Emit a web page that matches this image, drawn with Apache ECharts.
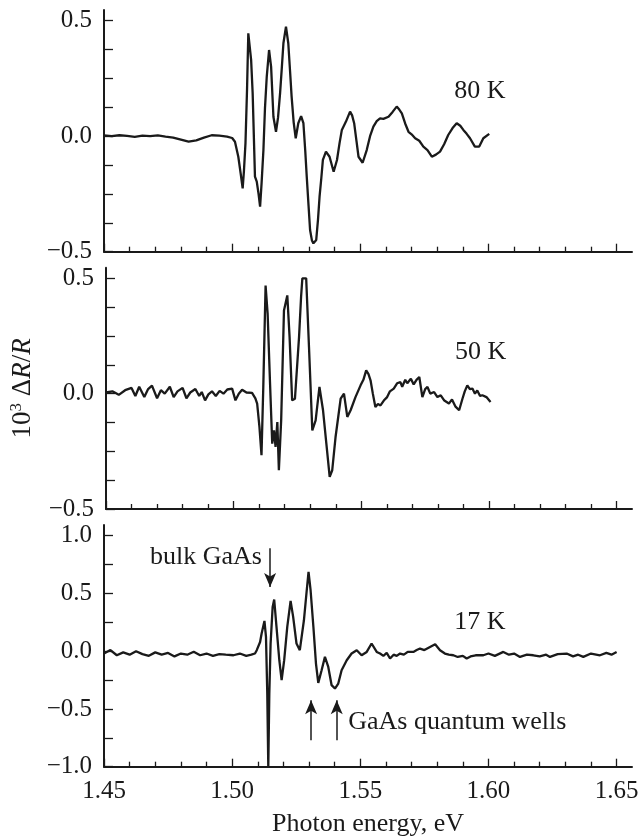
<!DOCTYPE html>
<html>
<head>
<meta charset="utf-8">
<script src="https://cdn.jsdelivr.net/npm/echarts@6/dist/echarts.min.js"></script>
<style>
html,body{margin:0;padding:0;background:#fff;}
#chart{width:642px;height:840px;}
</style>
</head>
<body>
<div id="chart"></div>
<script>
// ---- 80 K ----
const energy80 = [1.450,1.453,1.456,1.459,1.462,1.465,1.468,1.471,1.474,1.477,1.480,1.483,1.486,1.489,1.492,1.495,1.498,1.500,1.5011,1.5024,1.5033,1.5041,1.5046,1.5052,1.5058,1.5063,1.5068,1.5074,1.508,1.5089,1.5096,1.5103,1.5109,1.5115,1.5122,1.5128,1.5135,1.5144,1.5152,1.5161,1.5171,1.5179,1.5187,1.5194,1.5200,1.5210,1.5219,1.5226,1.5232,1.5240,1.5248,1.5258,1.5269,1.5278,1.5285,1.5291,1.5298,1.5304,1.5311,1.5317,1.5323,1.5328,1.5335,1.5341,1.5348,1.5354,1.5366,1.5380,1.5396,1.5409,1.5419,1.5428,1.5444,1.5460,1.5468,1.5476,1.5485,1.5493,1.5509,1.5525,1.5538,1.5551,1.5564,1.5577,1.5590,1.5610,1.5626,1.5642,1.5652,1.5662,1.5675,1.5688,1.5700,1.5714,1.5730,1.5746,1.5762,1.5779,1.5795,1.5811,1.5827,1.5843,1.5860,1.5876,1.5890,1.5902,1.5915,1.5928,1.5947,1.5964,1.5980,1.6003];
const signal80 = [0.003,0.000,0.004,0.001,-0.003,0.002,0.000,0.003,-0.002,-0.006,-0.015,-0.024,-0.018,-0.006,0.004,0.002,-0.002,-0.008,-0.024,-0.089,-0.160,-0.226,-0.150,-0.030,0.200,0.445,0.440,0.330,0.186,-0.175,-0.197,-0.250,-0.305,-0.200,-0.060,0.120,0.258,0.373,0.300,0.084,0.019,0.080,0.186,0.300,0.402,0.474,0.402,0.280,0.171,0.060,-0.009,0.056,0.087,0.056,-0.060,-0.175,-0.300,-0.406,-0.450,-0.464,-0.460,-0.449,-0.360,-0.262,-0.180,-0.103,-0.067,-0.089,-0.154,-0.103,-0.030,0.027,0.063,0.106,0.090,0.056,-0.020,-0.089,-0.115,-0.060,0.000,0.041,0.065,0.077,0.075,0.084,0.105,0.128,0.115,0.099,0.055,0.019,0.008,-0.009,-0.020,-0.045,-0.060,-0.089,-0.080,-0.067,-0.035,0.005,0.035,0.056,0.045,0.027,0.010,-0.009,-0.045,-0.045,-0.009,0.010];

// ---- 50 K ----
const energy50 = [1.4500,1.4525,1.4550,1.4575,1.4600,1.4615,1.4630,1.4650,1.4665,1.4680,1.4700,1.4715,1.4730,1.4750,1.4765,1.4780,1.4800,1.4815,1.4830,1.4850,1.4865,1.4875,1.4888,1.4901,1.4915,1.4930,1.4945,1.4960,1.4975,1.4994,1.5007,1.5020,1.5033,1.5050,1.5072,1.5085,1.5092,1.5101,1.5109,1.5116,1.5125,1.5133,1.5142,1.5151,1.5158,1.5164,1.5171,1.5177,1.5186,1.5197,1.5210,1.5219,1.5229,1.5240,1.5256,1.5264,1.5269,1.5284,1.5295,1.5308,1.5321,1.5336,1.5350,1.5363,1.5376,1.5386,1.5399,1.5419,1.5432,1.5445,1.5458,1.5477,1.5497,1.5508,1.5519,1.5528,1.5536,1.5545,1.5555,1.5565,1.5575,1.5588,1.5601,1.5612,1.5627,1.5640,1.5653,1.5660,1.5672,1.5680,1.5694,1.5705,1.5716,1.5727,1.5739,1.5750,1.5759,1.5770,1.5785,1.5798,1.5811,1.5825,1.5843,1.5855,1.5868,1.5883,1.5896,1.5905,1.5915,1.5925,1.5935,1.5945,1.5954,1.5965,1.5974,1.5990,1.6006];
const signal50 = [0.005,0.010,-0.005,0.015,0.025,-0.010,0.030,-0.015,0.020,0.035,-0.020,0.015,0.000,0.030,-0.015,0.010,0.025,-0.020,0.005,0.020,-0.010,0.007,-0.029,-0.003,0.010,-0.010,0.012,0.000,0.018,0.022,-0.029,0.000,0.017,0.005,0.003,-0.020,-0.043,-0.145,-0.267,0.029,0.469,0.347,0.058,-0.217,-0.159,-0.231,-0.123,-0.332,-0.116,0.361,0.426,0.245,-0.029,-0.022,0.245,0.420,0.500,0.500,0.202,-0.159,-0.116,0.029,-0.072,-0.217,-0.361,-0.332,-0.188,-0.022,0.000,-0.101,-0.072,-0.015,0.036,0.060,0.101,0.085,0.058,0.000,-0.058,-0.045,-0.051,-0.030,-0.015,0.010,0.022,0.045,0.050,0.030,0.060,0.045,0.065,0.040,0.060,0.072,-0.015,0.020,0.029,0.000,0.007,-0.015,-0.007,-0.030,-0.043,-0.025,-0.055,-0.072,-0.022,0.010,0.036,0.020,0.022,0.000,0.014,-0.010,-0.007,-0.015,-0.036];

// ---- 17 K ----
const energy17 = [1.4500,1.4525,1.4550,1.4575,1.4600,1.4625,1.4650,1.4675,1.4700,1.4725,1.4750,1.4775,1.4800,1.4825,1.4850,1.4875,1.4900,1.4925,1.4950,1.4975,1.5005,1.5030,1.5055,1.5075,1.5089,1.5096,1.5109,1.5115,1.5126,1.5132,1.5137,1.5141,1.5145,1.5150,1.5158,1.5164,1.5173,1.5184,1.5193,1.5203,1.5215,1.5228,1.5238,1.5251,1.5264,1.5280,1.5291,1.5298,1.5306,1.5317,1.5327,1.5336,1.5349,1.5362,1.5375,1.5388,1.5401,1.5414,1.5427,1.5447,1.5466,1.5486,1.5505,1.5525,1.5544,1.5564,1.5577,1.5590,1.5603,1.5616,1.5630,1.5642,1.5655,1.5670,1.5685,1.5707,1.5720,1.5733,1.5750,1.5772,1.5792,1.5811,1.5830,1.5845,1.5863,1.5880,1.5900,1.5915,1.5930,1.5950,1.5980,1.6000,1.6025,1.6058,1.6080,1.6100,1.6123,1.6150,1.6175,1.6200,1.6225,1.6240,1.6270,1.6305,1.6330,1.6350,1.6370,1.6400,1.6435,1.6460,1.6480,1.6500];
const signal17 = [-0.020,0.010,-0.035,-0.010,-0.030,0.000,-0.025,-0.040,-0.010,-0.030,-0.015,-0.045,-0.020,-0.030,-0.005,-0.035,-0.020,-0.040,-0.025,-0.030,-0.035,-0.020,-0.040,-0.030,-0.020,0.009,0.080,0.153,0.262,0.124,-0.366,-1.000,-0.366,0.067,0.384,0.448,0.210,-0.078,-0.251,-0.078,0.210,0.436,0.297,0.067,0.009,0.268,0.528,0.687,0.528,0.210,-0.107,-0.274,-0.165,-0.049,-0.136,-0.294,-0.323,-0.280,-0.165,-0.078,-0.020,0.009,-0.035,-0.006,0.067,-0.006,-0.020,-0.040,-0.015,-0.063,-0.030,-0.040,-0.020,-0.030,-0.005,-0.006,0.010,0.023,0.010,0.037,0.061,0.009,-0.020,-0.030,-0.035,-0.050,-0.040,-0.063,-0.045,-0.035,-0.035,-0.020,-0.040,-0.006,-0.030,-0.020,-0.049,-0.030,-0.035,-0.045,-0.030,-0.049,-0.025,-0.020,-0.045,-0.030,-0.049,-0.020,-0.035,-0.015,-0.030,-0.006];

// ---- ticks / labels ----
const xMajorTicks = [1.45, 1.50, 1.55, 1.60, 1.65];
const xMinorTicks = [1.46,1.47,1.48,1.49,1.51,1.52,1.53,1.54,1.56,1.57,1.58,1.59,1.61,1.62,1.63,1.64];
const yTicksHalf = [-0.5,-0.375,-0.25,-0.125,0,0.125,0.25,0.375,0.5];
const yLabelsHalf = [-0.5, 0, 0.5];
const yTicksOne = [-1,-0.75,-0.5,-0.25,0,0.25,0.5,0.75,1];
const yLabelsOne = [-1, -0.5, 0, 0.5, 1];

const INK = '#1a1a1a';
const FONT = '"Liberation Serif", "DejaVu Serif", serif';

function pairs(xs, ys){ return xs.map((x,i)=>[x, ys[i]]); }
function fmtY(v){ const s = Math.abs(v).toFixed(1); return v < 0 ? '\u2212' + s : s; }

const grids = [
  {left:104, top:10, width:528, height:241.7},
  {left:104, top:267.7, width:528, height:241.3},
  {left:104, top:525, width:528, height:241.7}
];

const xAxes = [];
grids.forEach((g, i) => {
  xAxes.push({
    type:'value', gridIndex:i, position:'bottom', min:1.45, max:1.656,
    axisLine:{show:true, onZero:false, lineStyle:{color:INK, width:2}},
    axisTick:{show:true, inside:true, length:8, customValues:xMajorTicks, lineStyle:{color:INK, width:1.3}},
    axisLabel:{show:i===2, customValues:xMajorTicks, formatter:v=>v.toFixed(2), fontFamily:FONT, fontSize:25, color:INK, margin:12},
    splitLine:{show:false},
    name: i===2 ? 'Photon energy, eV' : '',
    nameLocation:'middle', nameGap:44,
    nameTextStyle:{fontFamily:FONT, fontSize:26, color:INK}
  });
  xAxes.push({
    type:'value', gridIndex:i, position:'bottom', min:1.45, max:1.656,
    axisLine:{show:false, onZero:false},
    axisTick:{show:true, inside:true, length:5, customValues:xMinorTicks, lineStyle:{color:INK, width:1.3}},
    axisLabel:{show:false},
    splitLine:{show:false}
  });
});

const yRanges = [
  {min:-0.5, max:0.546, ticks:yTicksHalf, labels:yLabelsHalf},
  {min:-0.5, max:0.546, ticks:yTicksHalf, labels:yLabelsHalf},
  {min:-1.0, max:1.093, ticks:yTicksOne, labels:yLabelsOne}
];
const yAxes = yRanges.map((r, i) => ({
  type:'value', gridIndex:i, min:r.min, max:r.max,
  axisLine:{show:true, onZero:false, lineStyle:{color:INK, width:2}},
  axisTick:{show:true, inside:true, length:9, customValues:r.ticks, lineStyle:{color:INK, width:1.3}},
  axisLabel:{show:true, customValues:r.labels, formatter:fmtY, fontFamily:FONT, fontSize:25, color:INK, margin:12},
  splitLine:{show:false},
  name: i===1 ? '10{sup|3} \u0394{it|R}/{it|R}' : '',
  nameLocation:'middle', nameGap:68, nameRotate:90,
  nameTextStyle:{fontFamily:FONT, fontSize:27, color:INK,
    rich:{
      sup:{fontFamily:FONT, fontSize:17, color:INK, padding:[0,0,13,0]},
      it:{fontFamily:FONT, fontSize:27, fontStyle:'italic', color:INK}
    }}
}));

function textMark(coord, text, position){
  return {coord:coord, symbol:'circle', symbolSize:0,
    label:{show:true, position:position||'inside', distance:0, formatter:text,
      fontFamily:FONT, fontSize:26, color:INK}};
}

const lineBase = {type:'line', showSymbol:false, symbol:'none', silent:true, clip:true,
  lineStyle:{color:INK, width:2.3}, animation:false};

const option = {
  animation:false,
  backgroundColor:'#ffffff',
  grid:grids,
  xAxis:xAxes,
  yAxis:yAxes,
  series:[
    Object.assign({}, lineBase, {xAxisIndex:0, yAxisIndex:0, data:pairs(energy80, signal80),
      markPoint:{silent:true, animation:false, data:[textMark([1.5967, 0.193], '80 K')]}}),
    Object.assign({}, lineBase, {xAxisIndex:2, yAxisIndex:1, data:pairs(energy50, signal50),
      markPoint:{silent:true, animation:false, data:[textMark([1.5967, 0.180], '50 K')]}}),
    Object.assign({}, lineBase, {xAxisIndex:4, yAxisIndex:2, data:pairs(energy17, signal17),
      markPoint:{silent:true, animation:false, data:[
        textMark([1.5967, 0.254], '17 K'),
        textMark([1.5116, 0.816], 'bulk GaAs', 'left'),
        textMark([1.5453, -0.612], 'GaAs quantum wells', 'right')
      ]},
      markLine:{silent:true, animation:false, symbol:['none','arrow'], symbolSize:[9,14],
        label:{show:false}, lineStyle:{color:INK, width:1.5, type:'solid'},
        data:[
          [{coord:[1.5148, 0.892]}, {coord:[1.5148, 0.557]}],
          [{coord:[1.5308, -0.771]}, {coord:[1.5308, -0.424]}],
          [{coord:[1.5408, -0.771]}, {coord:[1.5408, -0.424]}]
        ]}
    })
  ]
};

const chart = echarts.init(document.getElementById('chart'), null, {renderer:'canvas'});
chart.setOption(option);
</script>
</body>
</html>
